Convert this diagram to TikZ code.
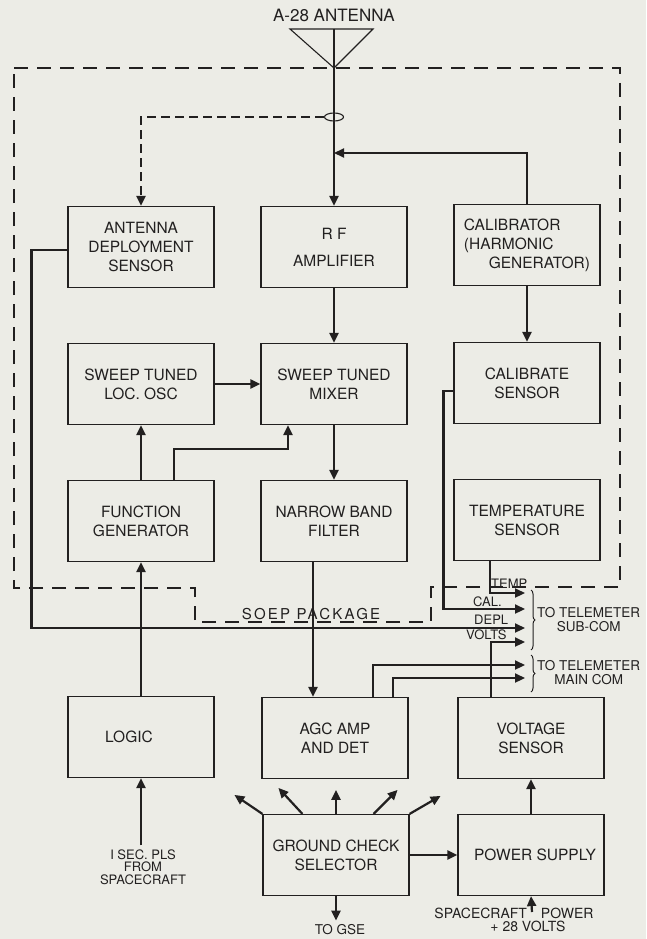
\documentclass[tikz,border=0pt]{standalone}
\usepackage{fontspec}
\setmainfont{TeX Gyre Heros}
\newfontfamily\spacedfont[LetterSpace=15]{TeX Gyre Heros}
\usetikzlibrary{arrows.meta, shapes.geometric, decorations.pathreplacing}
\definecolor{paper}{RGB}{236,236,230}
\definecolor{ink}{RGB}{34,32,32}

\begin{document}
\begin{tikzpicture}[x=1pt,y=-1pt]
    % Block diagram of the SOEP receiver package and its telemetry outputs.
    % Coordinates follow the page: x to the right, y downwards.

    \tikzset{
      block/.style={draw=ink, line width=1.2pt, minimum width=146pt, minimum height=81pt,
        align=center, text=ink, font=\fontsize{15.5}{19}\selectfont},
      conn/.style={draw=ink, line width=2.2pt, -{Triangle[length=10pt,width=9pt]}},
      coupling/.style={draw=ink, line width=2.2pt, dash pattern=on 9pt off 5pt,
        -{Triangle[length=10pt,width=9pt]}},
      package/.style={draw=ink, line width=1.1pt, dash pattern=on 14pt off 9pt},
      brace/.style={draw=ink, line width=1pt, decorate, decoration={brace, amplitude=4pt}},
      tag/.style={text=ink, inner sep=0pt, font=\fontsize{13}{13}\selectfont},
      note/.style={text=ink, inner sep=0pt, align=center, font=\fontsize{13.5}{14}\selectfont}
    }

    \useasboundingbox[fill=paper] (0,0) rectangle (646,939);

    % --- antenna and package outline
    \coordinate (apex) at (334,68);
    \draw[ink, line width=1.1pt] (290,29) -- (373,29) -- (apex) -- cycle;
    \draw[ink, line width=1.1pt] (334,29) -- (apex);
    \node[note, anchor=base, font=\fontsize{17}{18}\selectfont] (antlabel) at (334,22) {A-28 ANTENNA};

    \draw[package] (14,68) -- (620,68) -- (620,587) -- (431,587) -- (431,622)
      -- (195,622) -- (195,588) -- (14,588) -- cycle;
    \node[note, anchor=base, font=\spacedfont\fontsize{15}{16}\selectfont] (soep) at (311,619) {SOEP PACKAGE};

    % --- blocks, three columns
    \node[block] (deploy) at (141,247) {ANTENNA\\DEPLOYMENT\\SENSOR};
    \node[block] (rfamp) at (334,247) {R F\\[8pt]AMPLIFIER};
    \node[block, align=left] (calib) at (527,245) {CALIBRATOR\\(HARMONIC\\\hspace*{1.6em}GENERATOR)};

    \node[block] (locosc) at (141,384) {SWEEP TUNED\\LOC. OSC};
    \node[block] (mixer) at (334,384) {SWEEP TUNED\\MIXER};
    \node[block] (calsens) at (527,383) {CALIBRATE\\SENSOR};

    \node[block] (funcgen) at (141,521) {FUNCTION\\GENERATOR};
    \node[block] (filter) at (334,521) {NARROW BAND\\FILTER};
    \node[block] (tempsens) at (527,520) {TEMPERATURE\\SENSOR};

    \node[block] (logic) at (141,737) {LOGIC\hspace*{24pt}};
    \node[block] (agc) at (335,738) {AGC AMP\\AND DET};
    \node[block] (voltsens) at (531,738) {VOLTAGE\\SENSOR};

    \node[block] (gcsel) at (336,855) {GROUND CHECK\\SELECTOR};
    \node[block] (power) at (531,855) {\hspace*{8pt}POWER SUPPLY};

    % --- signal path
    \node[draw=ink, line width=1.1pt, ellipse, minimum width=19pt, minimum height=8pt,
      inner sep=0pt] (coupler) at (334,117) {};
    \coordinate (feed) at (334,153);
    \draw[conn] (apex) -- (rfamp.north);
    \draw[coupling] (coupler.west) -| (deploy.north);
    \draw[conn] (calib.north) |- (feed);
    \draw[conn] (rfamp) -- (mixer);
    \draw[conn] (calib) -- (calsens);
    \draw[conn] (locosc) -- (mixer);
    \draw[conn] (funcgen) -- (locosc);
    \draw[conn] ([xshift=33pt]funcgen.north) -- ++(0,-31) -| ([xshift=-46pt]mixer.south);
    \draw[conn] (mixer) -- (filter);
    \draw[conn] ([xshift=-21pt]filter.south) -- ([xshift=-21pt]filter.south |- agc.north);
    \draw[conn] (logic) -- (funcgen);
    \draw[conn] (power) -- (voltsens);
    \draw[conn] (gcsel) -- (power);

    % --- telemetry outputs
    \coordinate (tTemp) at (525,593);
    \coordinate (tCal) at (525,609);
    \coordinate (tDepl) at (525,628);
    \coordinate (tVolts) at (525,642);
    \coordinate (tMainA) at (525,665);
    \coordinate (tMainB) at (525,678);
    \draw[conn] ([xshift=-37pt]tempsens.south) |- (tTemp);
    \draw[conn] ([yshift=-8pt]calsens.west) -- ++(-10,0) |- (tCal);
    \draw[conn] ([yshift=-3pt]deploy.west) -- ++(-36,0) |- (tDepl);
    \draw[conn] ([xshift=-40pt]voltsens.north) |- (tVolts);
    \draw[conn] ([xshift=38pt]agc.north) |- (tMainA);
    \draw[conn] ([xshift=58pt]agc.north) |- (tMainB);

    \node[tag, anchor=base west] (lTemp) at (491,588) {TEMP};
    \node[tag, anchor=base west] (lCal) at (473,606) {CAL.};
    \node[tag, anchor=base west] (lDepl) at (474,624) {DEPL};
    \node[tag, anchor=base west] (lVolts) at (466,639) {VOLTS};

    \draw[brace] (531,590) -- (531,650);
    \draw[brace] (531,655) -- (531,692);
    \node[note, anchor=west] (subcom) at (537,620) {TO TELEMETER\\SUB-COM};
    \node[note, anchor=west] (maincom) at (537,673) {TO TELEMETER\\MAIN COM};

    % --- inputs and ground check
    \node[note, font=\fontsize{13}{12.5}\selectfont] (pls) at (143,867) {I SEC. PLS\\FROM\\SPACECRAFT};
    \draw[conn] ([yshift=4pt]pls.north -| logic.south) -- (logic.south);

    \draw[conn] (gcsel.north west) -- ++(-28,-19);
    \draw[conn] ([xshift=40pt]gcsel.north west) -- ++(-24,-26);
    \draw[conn] (gcsel.north) -- ++(0,-24);
    \draw[conn] ([xshift=-36pt]gcsel.north east) -- ++(24,-24);
    \draw[conn] (gcsel.north east) -- ++(31,-18);

    \node[note] (gse) at (340,930) {TO GSE};
    \draw[conn] (gcsel.south) -- ([yshift=4pt]gcsel.south |- gse.north);

    \coordinate (pwrin) at (532,912);
    \node[note, font=\fontsize{14}{12.5}\selectfont] (scpower) at (514,920)
      {SPACECRAFT\hspace{14pt}POWER\\\hspace*{28pt}+ 28 VOLTS};
    \draw[conn] (pwrin) -- (power.south);
  \end{tikzpicture}
\end{document}
